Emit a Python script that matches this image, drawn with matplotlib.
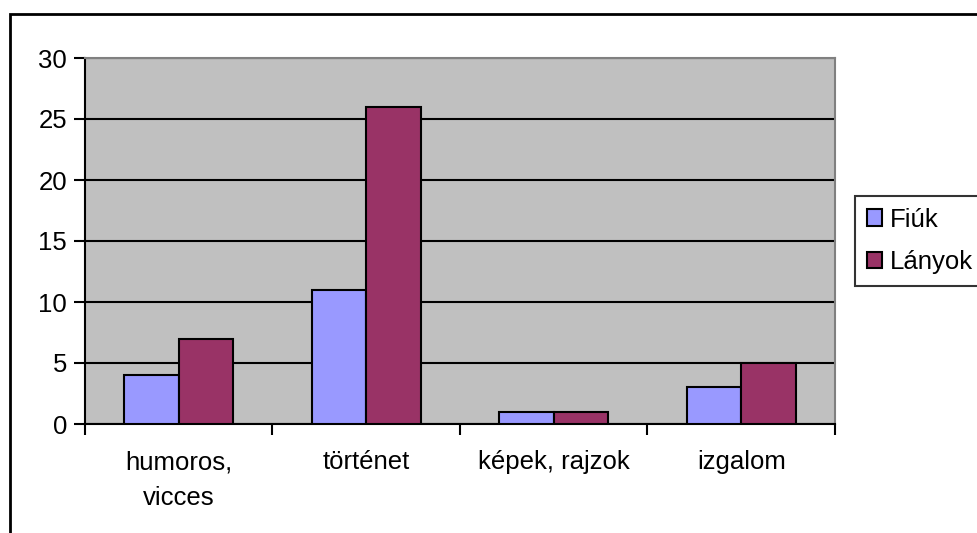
import numpy as np
import matplotlib.pyplot as plt
from matplotlib.patches import Rectangle

categories = ["humoros,\nvicces", "történet", "képek, rajzok", "izgalom"]
fiuk = [4, 11, 1, 3]
lanyok = [7, 26, 1, 5]
series = ["Fiúk", "Lányok"]
colors = ["#9999FF", "#993366"]

plt.rcParams["font.family"] = ["Liberation Sans", "DejaVu Sans"]
fs = 18.5

fig = plt.figure(figsize=(9.78, 5.33), dpi=100)
ax = fig.add_axes([85 / 978, 1 - 424 / 533, 750 / 978, 366 / 533])
ax.set_facecolor("#C0C0C0")

x = np.arange(len(categories))
w = 0.29
ax.bar(x - w / 2, fiuk, w, color=colors[0], edgecolor="black", linewidth=1.5, label=series[0], zorder=3)
ax.bar(x + w / 2, lanyok, w, color=colors[1], edgecolor="black", linewidth=1.5, label=series[1], zorder=3)

ax.set_xlim(-0.5, len(categories) - 0.5)
ax.set_ylim(0, 30)
ax.set_yticks(range(0, 31, 5))
ax.yaxis.grid(True, color="black", linewidth=1.5, zorder=1)
ax.set_axisbelow(True)

ax.set_xticks(np.arange(len(categories) + 1) - 0.5)
ax.set_xticklabels([])
ax.set_xticks(x, minor=True)
ax.set_xticklabels(categories, minor=True, fontsize=fs, linespacing=1.6)
ax.tick_params(axis="x", which="major", length=8, width=1.5, direction="out")
ax.tick_params(axis="x", which="minor", length=0, pad=19)
ax.tick_params(axis="y", length=8, width=1.5, direction="out", labelsize=fs, pad=5)

for s in ["top", "right"]:
    ax.spines[s].set_color("#808080")
    ax.spines[s].set_linewidth(1.5)
for s in ["left", "bottom"]:
    ax.spines[s].set_color("black")
    ax.spines[s].set_linewidth(1.5)

leg = fig.legend(loc="upper left", bbox_to_anchor=(855 / 978, 1 - 196 / 533),
                 fontsize=fs, frameon=True, fancybox=False, edgecolor="black",
                 handlelength=0.6, handleheight=0.6, handletextpad=0.3,
                 borderpad=0.45, labelspacing=0.72, borderaxespad=0)
leg.get_frame().set_linewidth(1.5)

fig.patches.append(Rectangle((10 / 978, -0.1), 1.1, 1 - 14 / 533 + 0.1,
                             transform=fig.transFigure, fill=False,
                             edgecolor="black", linewidth=2))

fig.savefig("out.png", dpi=100)
